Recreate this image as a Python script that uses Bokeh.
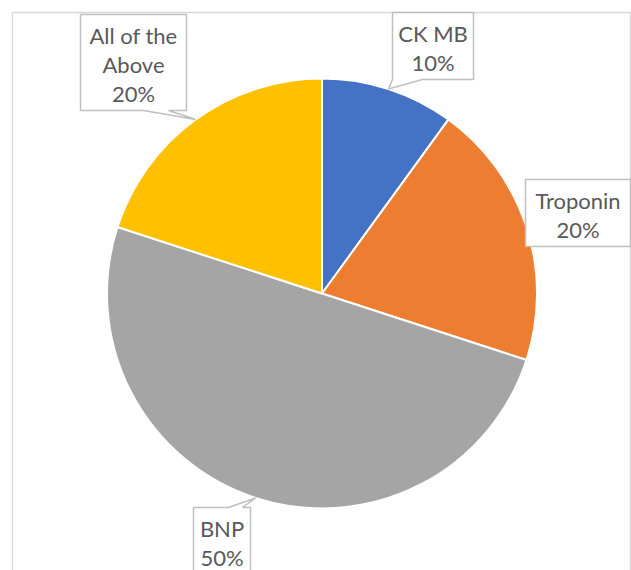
import math
import textwrap
from bokeh.plotting import figure
from bokeh.models import Range1d
from bokeh.core.properties import value
from bokeh.embed import file_html
from bokeh.resources import INLINE

# ---- data ----
categories = ["CK MB", "Troponin", "BNP", "All of the Above"]
shares = [10, 20, 50, 20]
colors = ["#4472C4", "#ED7D31", "#A5A5A5", "#FFC000"]

# ---- layout (screen pixels, y downward) ----
W, H = 631, 570
CX, CY, R = 321.5, 293.0, 215.0
# label boxes: (x0, y0, x1, y1), pointer side, pointer base (a, b) along that side
boxes = {
    "CK MB": ((392, 12, 473, 79), "bottom", (392, 422)),
    "Troponin": ((525, 179, 630, 246), None, None),
    "BNP": ((193, 507, 250, 575), "top", (228, 242)),
    "All of the Above": ((80, 14, 186, 110), "bottom", (143, 168)),
}
LINE_H = 29
FONT = "Lato"
FONT_SIZE = "22px"

def Y(y):
    return H - y

p = figure(width=W, height=H, x_range=Range1d(0, W), y_range=Range1d(0, H),
           output_backend="svg", toolbar_location=None,
           x_axis_location=None, y_axis_location=None, min_border=0)
p.outline_line_color = None
p.grid.visible = False
p.background_fill_color = "white"
p.border_fill_color = "white"

# chart area border
p.quad(left=[12], right=[630], top=[Y(12)], bottom=[Y(600)],
       fill_color=None, line_color="#D9D9D9", line_width=1.5)

total = float(sum(shares))
cum = 0.0
tips = []
for cat, s, c in zip(categories, shares, colors):
    f0 = cum / total
    f1 = (cum + s) / total
    cum += s
    a0 = math.pi / 2 - 2 * math.pi * f0
    a1 = math.pi / 2 - 2 * math.pi * f1
    p.wedge(x=[CX], y=[Y(CY)], radius=R, start_angle=[a0], end_angle=[a1],
            direction="clock", fill_color=c, line_color="white", line_width=2)
    fm = (f0 + f1) / 2
    th = 2 * math.pi * fm
    tips.append((CX + R * math.sin(th), CY - R * math.cos(th)))

for cat, s, (tx, ty) in zip(categories, shares, tips):
    (x0, y0, x1, y1), side, base = boxes[cat]
    if side == "bottom":
        pts = [(x0, y0), (x1, y0), (x1, y1), (base[1], y1), (tx, ty), (base[0], y1), (x0, y1)]
    elif side == "top":
        pts = [(x0, y0), (base[0], y0), (tx, ty), (base[1], y0), (x1, y0), (x1, y1), (x0, y1)]
    else:
        pts = [(x0, y0), (x1, y0), (x1, y1), (x0, y1)]
    p.patch([q[0] for q in pts], [Y(q[1]) for q in pts],
            fill_color="white", line_color="#BFBFBF", line_width=1.5)
    lines = textwrap.wrap(cat, width=10) + [f"{round(100 * s / total)}%"]
    cxb = (x0 + x1) / 2
    cyb = (y0 + min(y1, 574)) / 2 + 1.5
    n = len(lines)
    for i, t in enumerate(lines):
        yy = cyb + (i - (n - 1) / 2) * LINE_H
        p.text(x=[cxb], y=[Y(yy)], text=[t], text_align="center",
               text_baseline="middle", text_font=value(FONT),
               text_font_size=FONT_SIZE, text_color="#595959")

open("out.html", "w").write(file_html(p, INLINE))
